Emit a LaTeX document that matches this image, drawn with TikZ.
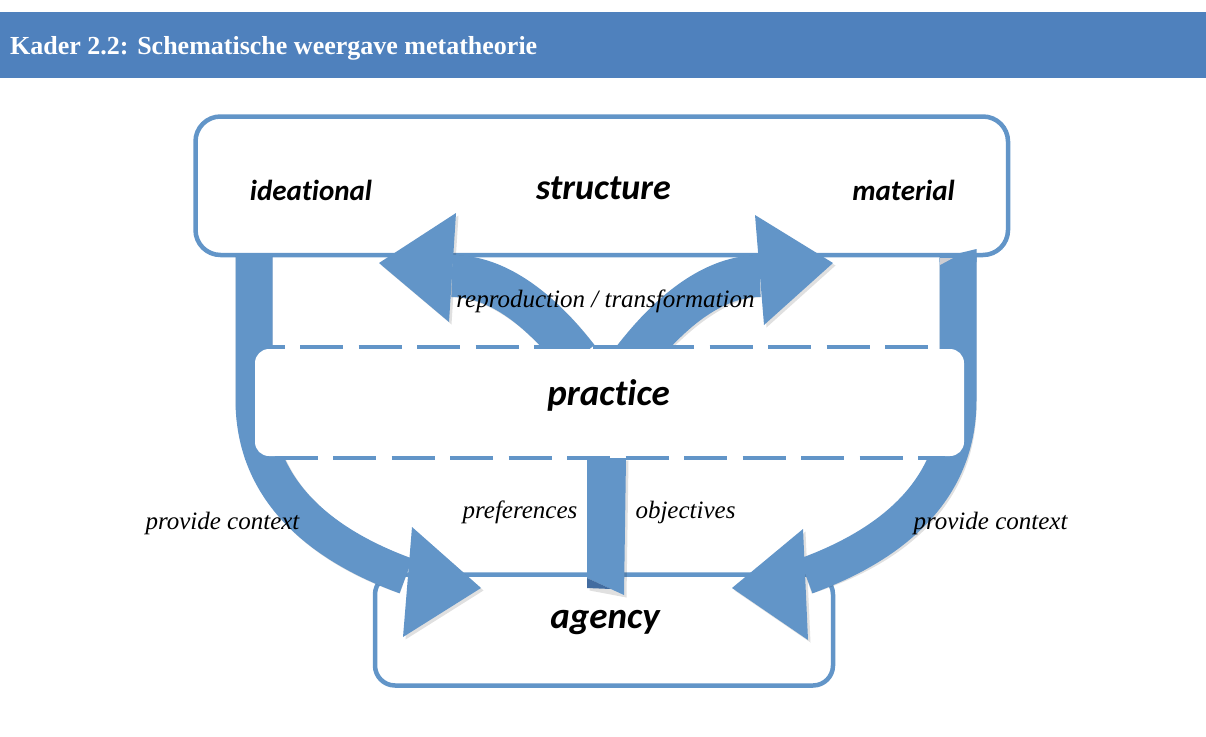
\documentclass[tikz,border=0pt]{standalone}
\usepackage{fontspec}
\setmainfont{Liberation Serif}
\newfontfamily\sansbi[Ligatures=NoCommon]{Carlito}
\definecolor{hdrblue}{RGB}{79,129,189}
\definecolor{arrblue}{RGB}{98,149,200}
\definecolor{foldblue}{RGB}{66,108,160}
\definecolor{foldgrey}{RGB}{205,205,210}
\begin{document}
\begin{tikzpicture}[x=1pt,y=-1pt,
  box/.style={draw=arrblue, line width=4.5pt, fill=white, inner sep=0pt},
  bigtxt/.style={font=\sansbi\bfseries\itshape\fontsize{36}{40}\selectfont, inner sep=0pt, anchor=base},
  midtxt/.style={font=\sansbi\bfseries\itshape\fontsize{29}{34}\selectfont, inner sep=0pt, anchor=base},
  lab/.style={font=\itshape\fontsize{25}{28}\selectfont, inner sep=0pt, anchor=base},
  shaft/.style={draw=arrblue, line width=37pt},
  shadowline/.style={draw=black, opacity=0.12, line width=37pt},
  arrhead/.style={fill=arrblue},
  dashline/.style={draw=arrblue, line width=4.5pt, dash pattern=on 43pt off 15.5pt},
]
\useasboundingbox (0,0) rectangle (1206,736);
% header
\fill[hdrblue] (0,12) rectangle (1206,78);
\node[anchor=base west, text=white, font=\bfseries\fontsize{26}{30}\selectfont, inner sep=0pt] (title) at (10,54) {Kader 2.2: Schematische weergave metatheorie};

% boxes
\node[box, rounded corners=25pt, minimum width=812.5pt, minimum height=138.5pt] (structure) at (601.75,185.75) {};
\node[box, rounded corners=20pt, minimum width=458pt, minimum height=111pt] (agency) at (604,630) {};

% coordinates of the connectors
\coordinate (lu0) at (254,256);
\coordinate (lu1) at (254,400);
\coordinate (lu2) at (406,576);
\coordinate (ru0) at (958,256);
\coordinate (ru1) at (958,400);
\coordinate (ru2) at (806,576);
\coordinate (lt0) at (578,358);
\coordinate (lt1) at (452,276);
\coordinate (rt0) at (634,358);
\coordinate (rt1) at (760,276);

% soft shadows
\begin{scope}[shift={(2.5,2.5)}]
\draw[shadowline] (lu0) -- (lu1) .. controls (254,500) and (335,550) .. (lu2);
\fill[black, opacity=0.12] (412,527) -- (481,588) -- (403,637) -- cycle;
\draw[shadowline] (ru0) -- (ru1) .. controls (958,500) and (877,550) .. (ru2);
\fill[black, opacity=0.12] (803,529) -- (732,588) -- (808,640) -- cycle;
\draw[shadowline, line width=42pt] (lt0) .. controls (550,322) and (505,276) .. (lt1);
\fill[black, opacity=0.12] (456,213) -- (379,263) -- (449,322) -- cycle;
\draw[shadowline, line width=42pt] (rt0) .. controls (662,322) and (707,276) .. (rt1);
\fill[black, opacity=0.12] (755,215) -- (833,263) -- (764,325) -- cycle;
\end{scope}

% left U arrow (structure -> agency)
\draw[shaft] (lu0) -- (lu1) .. controls (254,500) and (335,550) .. (lu2);
\fill[arrhead] (412,527) -- (481,588) -- (403,637) -- cycle;
% right U arrow (structure -> agency)
\draw[shaft] (ru0) -- (ru1) .. controls (958,500) and (877,550) .. (ru2);
\fill[arrhead] (803,529) -- (732,588) -- (808,640) -- cycle;
\fill[arrblue] (939.5,258) -- (976.5,249) -- (976.5,262) -- (939.5,262) -- cycle;
\fill[foldgrey] (940,258) -- (953,258) -- (940,265) -- cycle;

% top arrows (practice -> structure)
\draw[shaft, line width=42pt] (lt0) .. controls (550,322) and (505,276) .. (lt1);
\fill[arrhead] (456,213) -- (379,263) -- (449,322) -- cycle;
\draw[shaft, line width=42pt] (rt0) .. controls (662,322) and (707,276) .. (rt1);
\fill[arrhead] (755,215) -- (833,263) -- (764,325) -- cycle;

% practice box
\node[fill=white, rounded corners=14pt, minimum width=709pt, minimum height=107pt, inner sep=0pt] (practice) at (609.5,402.5) {};
\draw[dashline] (241.5,347) -- (975,347);
\draw[dashline, dash phase=29pt] (245,458) -- (945,458);

% centre bar (practice -> agency)
\fill[black, opacity=0.12] (589.5,460.5) -- (628.5,460.5) -- (626.5,597.5) -- (589.5,590.5) -- cycle;
\fill[arrblue] (587,458) -- (626,458) -- (624,595) -- (587,578) -- cycle;
\fill[foldblue] (587,578) -- (611,589) -- (587,588) -- cycle;

% texts
\node[midtxt] (ideational) at (311,200) {ideational};
\node[bigtxt] (structuretxt) at (603.5,199) {structure};
\node[midtxt] (material) at (903.5,200) {material};
\node[bigtxt, font=\sansbi\bfseries\itshape\fontsize{37}{40}\selectfont] (practicetxt) at (608.5,405) {practice};
\node[bigtxt, font=\sansbi\bfseries\itshape\fontsize{37}{40}\selectfont] (agencytxt) at (605,628) {agency};
\node[lab] (repro) at (605.5,307) {reproduction / transformation};
\node[lab] (pref) at (520,518) {preferences};
\node[lab] (obj) at (685.5,518) {objectives};
\node[lab] (pcl) at (222.5,529) {provide context};
\node[lab] (pcr) at (990.5,529) {provide context};
\end{tikzpicture}
\end{document}
